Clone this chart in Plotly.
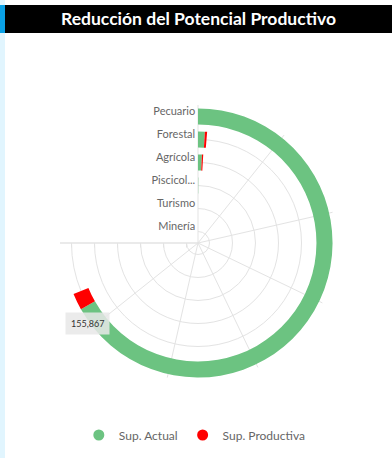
import plotly.graph_objects as go

# ---- data ----
categories = ["Minería", "Turismo", "Piscícola", "Agrícola", "Forestal", "Pecuario"]
tick_labels = ["Minería", "Turismo", "Piscicol...", "Agrícola", "Forestal", "Pecuario"]
sup_actual = [0, 0, 150, 1650, 2300, 155867]
sup_productiva = [0, 0, 0, 550, 750, 4670]
angle_ticks = [0, 25000, 50000, 75000, 100000, 125000, 150000, 175000]
axis_max = 175000
series_names = ["Sup. Actual", "Sup. Productiva"]
colors = ["#6cc381", "#ff0000"]
tooltip_value = 155867

W, H = 392, 458
span = 270.0
k = span / axis_max  # value -> degrees
n = len(categories)
centers = [i + 0.5 for i in range(n)]
bar_w = 0.7
bases = [c - bar_w / 2 for c in centers]
label_shift = 0.17  # labels sit slightly above band centre

FONT = "Lato"

fig = go.Figure()

fig.add_trace(go.Barpolar(
    r=[bar_w] * n, base=bases,
    theta=[v * k / 2 for v in sup_actual],
    width=[v * k for v in sup_actual],
    marker=dict(color=colors[0], line=dict(width=0)),
    name=series_names[0], showlegend=False, hoverinfo="skip",
))
fig.add_trace(go.Barpolar(
    r=[bar_w] * n, base=bases,
    theta=[(a + p / 2) * k for a, p in zip(sup_actual, sup_productiva)],
    width=[p * k for p in sup_productiva],
    marker=dict(color=colors[1], line=dict(width=0)),
    name=series_names[1], showlegend=False, hoverinfo="skip",
))
# category labels along the top radial line
fig.add_trace(go.Scatterpolar(
    r=[c + label_shift for c in centers], theta=[0] * n, mode="text",
    text=[t + " " for t in tick_labels],
    textposition="middle left", textfont=dict(family=FONT, size=11, color="#666666"),
    showlegend=False, hoverinfo="skip", cliponaxis=False,
))
# legend entries (circles)
for nm, c in zip(series_names, colors):
    fig.add_trace(go.Scatterpolar(
        r=[None], theta=[None], mode="markers", name=nm,
        marker=dict(color=c, size=11, symbol="circle"),
    ))

fig.update_layout(
    width=W, height=H,
    margin=dict(l=0, r=0, t=0, b=0),
    paper_bgcolor="white",
    font=dict(family=FONT, color="#666666"),
    title=dict(text="<b>Reducción del Potencial Productivo</b>",
               x=0.5 + 2.5 / W, xanchor="center", y=1 - 19 / H, yanchor="middle",
               yref="container", font=dict(family=FONT, size=17.5, color="white")),
    polar=dict(
        domain=dict(x=[60 / W, 336 / W], y=[(H - 381) / H, (H - 105) / H]),
        sector=[-180, 90],
        bgcolor="white",
        barmode="overlay",
        angularaxis=dict(rotation=90, direction="clockwise",
                         tickvals=[t * k for t in angle_ticks],
                         showticklabels=False, ticks="",
                         showgrid=True, gridcolor="#e3e3e3", gridwidth=1,
                         showline=False),
        radialaxis=dict(range=[0, n], tickvals=centers, showticklabels=False,
                        ticks="outside", ticklen=4, tickcolor="#e3e3e3",
                        angle=180, side="counterclockwise",
                        showgrid=True, gridcolor="#e3e3e3", gridwidth=1,
                        showline=True, linecolor="#e3e3e3"),
    ),
    legend=dict(orientation="h", x=0.497, xanchor="center", y=1 - 435 / H, yanchor="middle",
                font=dict(family=FONT, size=12, color="#666666"), itemwidth=30),
    shapes=[
        dict(type="rect", xref="paper", yref="paper", x0=0, x1=5 / W, y0=0, y1=1,
             fillcolor="#e1f5fe", line=dict(width=0), layer="below"),
        dict(type="rect", xref="paper", yref="paper", x0=5 / W, x1=1, y0=1 - 33 / H, y1=1 - 5 / H,
             fillcolor="black", line=dict(width=0), layer="below"),
        dict(type="rect", xref="paper", yref="paper", x0=0, x1=5 / W, y0=1 - 33 / H, y1=1 - 5 / H,
             fillcolor="#0aa1e6", line=dict(width=0), layer="below"),
    ],
    annotations=[
        dict(text=f"{tooltip_value:,}", xref="paper", yref="paper",
             x=87 / W, y=1 - 323 / H, xanchor="center", yanchor="middle", showarrow=False,
             font=dict(family=FONT, size=9, color="#333333"),
             bgcolor="rgba(232,232,232,0.85)", borderpad=5),
    ],
)

fig.write_html("out.html", config={"displayModeBar": False},
               post_script="document.body.style.margin='0px';document.body.style.overflow='hidden';")
